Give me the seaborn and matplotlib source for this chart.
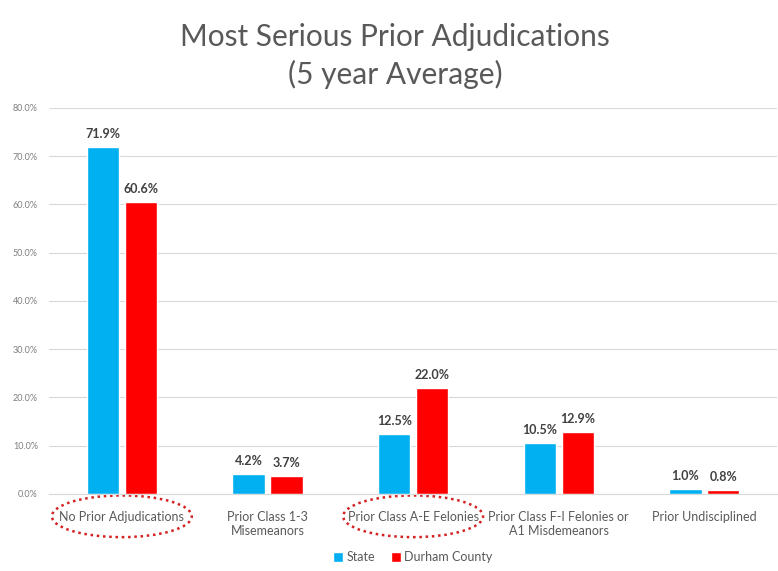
import pandas as pd
import matplotlib.pyplot as plt
import seaborn as sns
from matplotlib.patches import Ellipse
from matplotlib.transforms import blended_transform_factory
from matplotlib.ticker import PercentFormatter

# Data
categories = ['No Prior Adjudications', 'Prior Class 1-3\nMisemeanors', 'Prior Class A-E Felonies',
              'Prior Class F-I Felonies or\nA1 Misdemeanors', 'Prior Undisciplined']
state_vals = [71.9, 4.2, 12.5, 10.5, 1.0]
durham_vals = [60.6, 3.7, 22.0, 12.9, 0.8]
series = ['State', 'Durham County']
circled = [0, 2]

df = pd.DataFrame({
    'Category': categories * 2,
    'Series': [series[0]] * 5 + [series[1]] * 5,
    'Value': state_vals + durham_vals,
})

sns.set_style('white')
plt.rcParams['font.family'] = ['Lato', 'DejaVu Sans']

fig = plt.figure(figsize=(7.78, 5.71), dpi=100)
ax = fig.add_axes([0.063, 0.135, 0.936, 0.676])

sns.barplot(data=df, x='Category', y='Value', hue='Series', order=categories,
            palette=['#00B0F0', '#FF0000'], saturation=1, width=0.52, gap=0.15,
            ax=ax, legend=True)

for cont in ax.containers:
    ax.bar_label(cont, fmt='%.1f%%', padding=5, fontsize=9, fontweight='bold', color='#404040')

ax.set_ylim(0, 80)
ax.set_yticks(range(0, 81, 10))
ax.yaxis.set_major_formatter(PercentFormatter(decimals=1))
ax.tick_params(axis='y', labelsize=6.5, labelcolor='#7f7f7f', length=0, pad=8)
ax.tick_params(axis='x', labelsize=9, labelcolor='#595959', length=0, pad=12)
ax.grid(axis='y', color='#d9d9d9', linewidth=0.8)
ax.set_axisbelow(True)
ax.set_xlabel('')
ax.set_ylabel('')
for s in ['top', 'right', 'left']:
    ax.spines[s].set_visible(False)
ax.spines['bottom'].set_color('#d9d9d9')

# dotted ellipses around highlighted labels
tr = blended_transform_factory(ax.transData, ax.transAxes)
for i in circled:
    ax.add_patch(Ellipse((i, -0.058), 0.96, 0.108, transform=tr,
                         fill=False, edgecolor='#d42020', linestyle=(0, (1, 1.5)),
                         linewidth=1.8, clip_on=False))

ax.legend(loc='upper center', bbox_to_anchor=(0.5, -0.12), ncol=2, frameon=False,
          fontsize=9, labelcolor='#595959', handlelength=0.8, handleheight=0.8,
          handletextpad=0.3, columnspacing=1.2)

fig.text(0.508, 0.902, 'Most Serious Prior Adjudications\n(5 year Average)', ha='center', va='center',
         fontsize=21.5, color='#595959', linespacing=1.4)

fig.savefig('out.png', dpi=100)
